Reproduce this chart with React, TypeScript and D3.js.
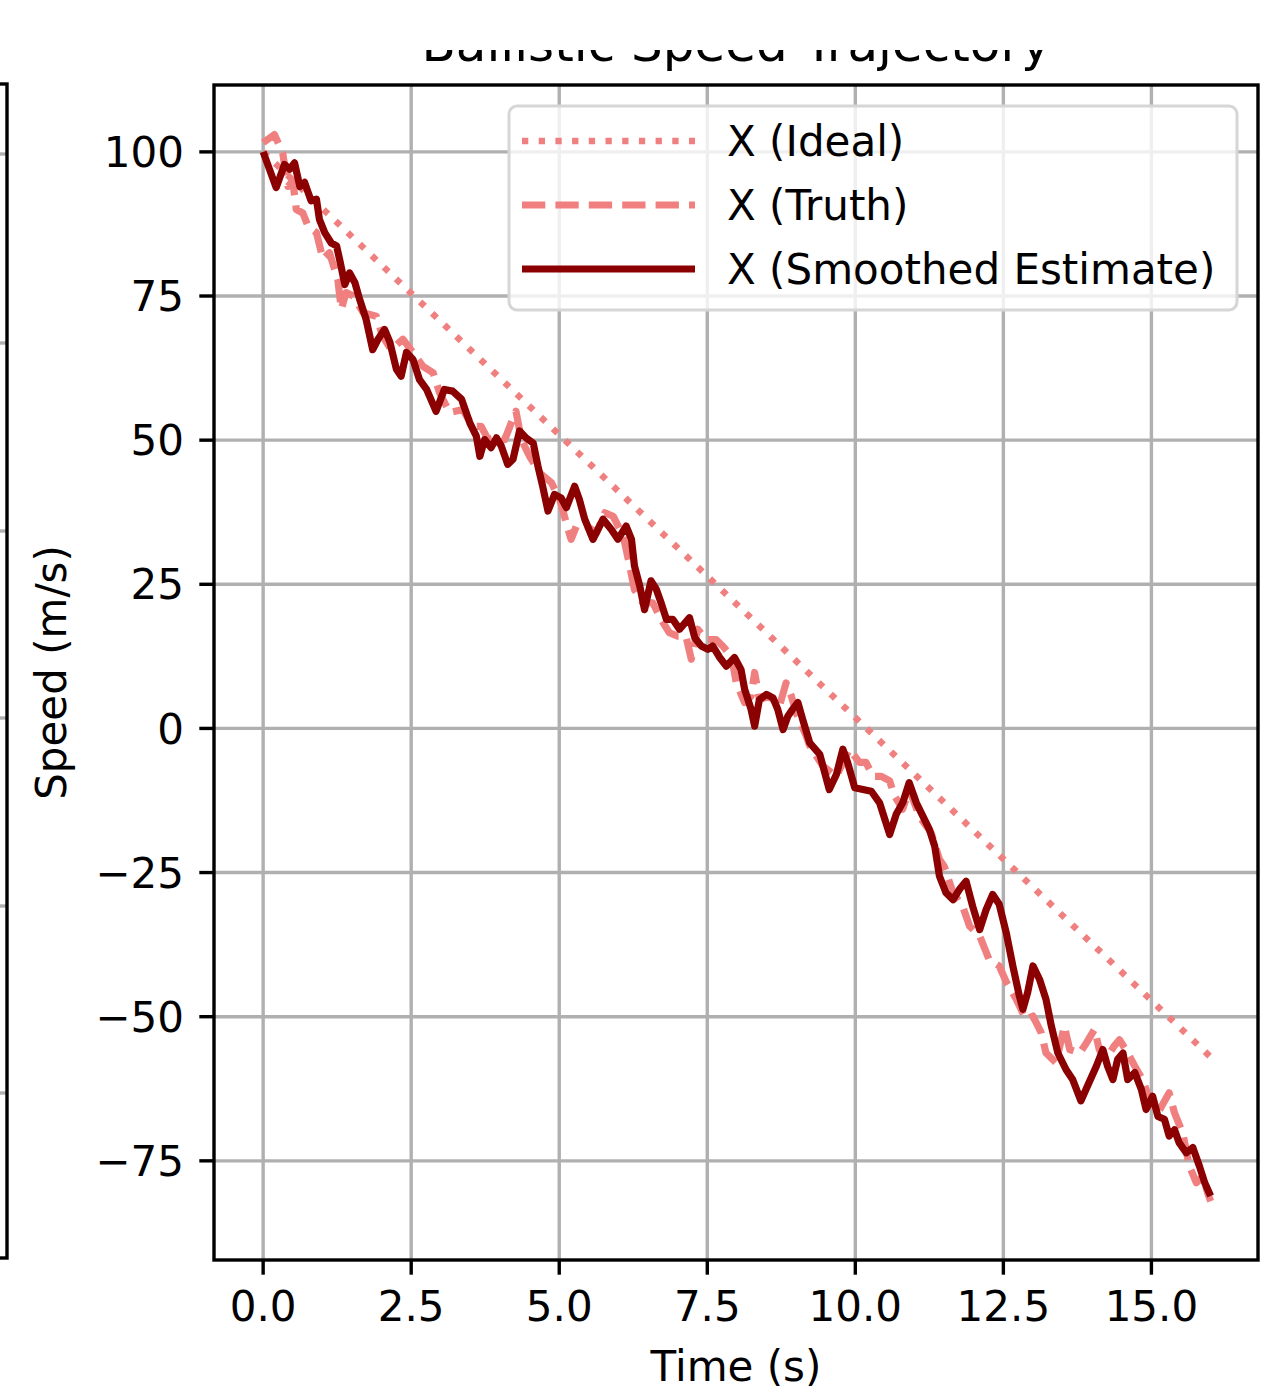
import React from "react";
import * as d3 from "d3";

// ---------- data ----------
const idealT = [0, 16];
const idealV = [100, -57];

const truthT = [0, 0.19, 0.28, 0.33, 0.42, 0.5, 0.56, 0.67, 0.76, 0.9, 1.01, 1.12, 1.26, 1.32, 1.4, 1.52, 1.69, 1.91, 2.02, 2.16, 2.36, 2.53, 2.7, 2.87, 2.98, 3.15, 3.37, 3.54, 3.68, 3.8, 3.94, 4.08, 4.19, 4.27, 4.36, 4.5, 4.67, 4.87, 5.01, 5.15, 5.2, 5.29, 5.46, 5.63, 5.77, 5.91, 6.08, 6.19, 6.27, 6.41, 6.58, 6.72, 6.86, 7.0, 7.14, 7.23, 7.34, 7.48, 7.65, 7.76, 7.91, 7.99, 8.13, 8.24, 8.3, 8.38, 8.55, 8.72, 8.83, 8.92, 9.0, 9.17, 9.23, 9.45, 9.68, 9.9, 10.07, 10.18, 10.3, 10.44, 10.58, 10.66, 10.8, 10.91, 11.08, 11.28, 11.42, 11.5, 11.65, 11.81, 11.93, 12.1, 12.26, 12.43, 12.55, 12.72, 12.88, 13.0, 13.14, 13.22, 13.39, 13.53, 13.62, 13.79, 13.9, 14.04, 14.12, 14.23, 14.37, 14.46, 14.6, 14.72, 14.85, 14.97, 15.11, 15.3, 15.39, 15.53, 15.64, 15.76, 15.87, 15.95, 16.0];
const truthV = [101.6, 103, 101, 99.8, 94, 95, 90, 89.4, 87.1, 86, 81.4, 82.5, 77.9, 72.7, 75.6, 75, 72.1, 71.5, 68, 65.7, 67.5, 65.2, 62.8, 61.7, 58.2, 54.8, 55.3, 52.4, 52.4, 50.1, 50.7, 50.1, 53, 55, 50.1, 47.2, 44.3, 42.6, 39.7, 34.5, 32.8, 35.1, 35.1, 33.9, 37.4, 36.8, 33.4, 28.2, 24.1, 21.8, 21.8, 18.9, 16.6, 16, 16, 12, 17.2, 15.4, 15.4, 14.3, 12.5, 7.9, 4.5, 5.6, 9.7, 5, 5.6, 3.9, 7.9, 5.6, 2.7, -1.3, -3.0, -6.5, -8.3, -3.6, -5.9, -5.9, -8.3, -8.3, -9.1, -11.7, -14, -10.6, -15.2, -18.1, -22.7, -23.9, -28.5, -30.8, -34.3, -36, -40.1, -41.2, -44, -47, -50.5, -49.9, -52.8, -56.3, -58, -51.6, -55.7, -56.3, -54.6, -52.2, -55.7, -57.4, -55.1, -54, -56.3, -58.6, -60.9, -64.4, -66.7, -63.2, -66.7, -70.2, -75.9, -78.8, -77.7, -80.6, -82];

const smoothT = [0, 0.22, 0.36, 0.45, 0.53, 0.62, 0.7, 0.81, 0.9, 0.95, 1.04, 1.15, 1.24, 1.29, 1.38, 1.46, 1.55, 1.63, 1.74, 1.85, 1.94, 2.05, 2.14, 2.25, 2.33, 2.42, 2.53, 2.64, 2.76, 2.92, 3.06, 3.2, 3.35, 3.49, 3.6, 3.66, 3.74, 3.85, 3.94, 4.02, 4.13, 4.22, 4.33, 4.44, 4.56, 4.64, 4.72, 4.81, 4.92, 5.03, 5.12, 5.26, 5.34, 5.43, 5.57, 5.74, 5.88, 5.99, 6.13, 6.22, 6.27, 6.36, 6.44, 6.55, 6.64, 6.72, 6.81, 6.92, 7.03, 7.2, 7.29, 7.4, 7.51, 7.59, 7.71, 7.82, 7.96, 8.07, 8.13, 8.24, 8.3, 8.38, 8.5, 8.61, 8.69, 8.78, 8.86, 8.94, 9.03, 9.11, 9.23, 9.4, 9.56, 9.68, 9.79, 9.87, 9.99, 10.13, 10.27, 10.41, 10.58, 10.69, 10.8, 10.91, 11.03, 11.14, 11.25, 11.34, 11.42, 11.53, 11.65, 11.76, 11.87, 11.98, 12.1, 12.21, 12.32, 12.43, 12.55, 12.66, 12.77, 12.83, 12.91, 13.0, 13.11, 13.22, 13.31, 13.42, 13.56, 13.67, 13.81, 13.93, 14.07, 14.18, 14.26, 14.35, 14.43, 14.52, 14.6, 14.72, 14.83, 14.91, 15.02, 15.11, 15.22, 15.3, 15.39, 15.47, 15.59, 15.7, 15.81, 15.9, 16.0];
const smoothV = [100, 93.8, 97.8, 97, 98.1, 94, 94.7, 91.5, 91.8, 88.3, 86, 84.2, 83.7, 81.4, 77, 79, 77.3, 74.4, 70.9, 65.7, 67.5, 69.2, 67, 62.3, 61.1, 65.2, 64, 60.5, 58.8, 55, 58.8, 58.5, 57.1, 53, 50.7, 47.2, 50.1, 48.7, 50.4, 49, 45.8, 46.7, 51.6, 50.4, 49.5, 45.5, 42, 37.7, 40.6, 40, 38.3, 42, 39.7, 36.3, 32.8, 36.3, 34.5, 32.8, 35.1, 32.8, 28.2, 24.7, 20.6, 25.6, 24.1, 21.8, 18.9, 18.9, 17.2, 19.2, 15.7, 14.3, 13.7, 14.3, 12.3, 10.8, 12.3, 10.2, 6.8, 3.3, 0.4, 5, 5.9, 5.3, 3.3, -0.2, 2.1, 3.3, 4.5, 1.6, -2.5, -4.5, -10.6, -8, -3.6, -5.9, -10.3, -10.6, -10.9, -12.9, -18.4, -14.9, -12.9, -9.4, -12.9, -15.2, -17.5, -20.4, -25.6, -28.5, -29.7, -27.9, -26.5, -30.8, -34.9, -31.4, -28.8, -30.5, -35.5, -41.2, -46.4, -48.7, -45.8, -41.2, -43.5, -47, -51.6, -56.3, -59.2, -60.9, -64.6, -61.8, -58.6, -55.7, -58.6, -60.9, -57.4, -56.3, -60.9, -59.7, -62.6, -66.1, -63.8, -67.3, -67.8, -70.7, -69.6, -71.9, -73.6, -72.7, -75.9, -78.8, -81.1];

const xTicks = [0, 2.5, 5, 7.5, 10, 12.5, 15];
const yTicks = [-75, -50, -25, 0, 25, 50, 75, 100];
const legendLabels = ["X (Ideal)", "X (Truth)", "X (Smoothed Estimate)"];
const titleText = "Ballistic Speed Trajectory";
const xLabel = "Time (s)";
const yLabel = "Speed (m/s)";
const leftPanelGrid = [154, 343, 531, 718, 906, 1093];

const W = 1276;
const H = 1392;
const FONT = "DejaVu Sans, sans-serif";

export default function App() {
  const L = 214, R = 1258, T = 85, B = 1260;
  const x = d3.scaleLinear().domain([-0.83, 16.8]).range([L, R]);
  const y = d3.scaleLinear().domain([-92.2, 111.6]).range([B, T]);
  const line = d3
    .line<[number, number]>()
    .x((d) => x(d[0]))
    .y((d) => y(d[1]));

  const ideal = idealT.map((t, i) => [t, idealV[i]] as [number, number]);
  const truth = truthT.map((t, i) => [t, truthV[i]] as [number, number]);
  const smooth = smoothT.map((t, i) => [t, smoothV[i]] as [number, number]);

  const fmtX = (v: number) => v.toFixed(1);
  const fmtY = (v: number) => (v < 0 ? "\u2212" + Math.abs(v) : String(v));

  const lw = 7.2;
  const coral = "#F08080";
  const dark = "#8B0000";
  const grid = "#b0b0b0";
  const gw = 3.4;

  const legendRows = [141, 205, 269];

  return (
    <svg
      width={W}
      height={H}
      style={{ position: "absolute", left: 0, top: 0, background: "#fff" }}
      fontFamily={FONT}
    >
      <defs>
        <clipPath id="plotclip">
          <rect x={L} y={T} width={R - L} height={B - T} />
        </clipPath>
        <clipPath id="titleclip">
          <rect x={0} y={50} width={W} height={40} />
        </clipPath>
      </defs>
      <rect x={0} y={0} width={W} height={H} fill="#fff" />

      {/* left neighbouring panel edge */}
      {leftPanelGrid.map((gy) => (
        <line key={gy} x1={0} x2={7} y1={gy} y2={gy} stroke={grid} strokeWidth={gw} />
      ))}
      <rect x={-30} y={84} width={37} height={1174} fill="none" stroke="#000" strokeWidth={3.4} />

      {/* title (partially hidden) */}
      <g clipPath="url(#titleclip)">
        <text x={(L + R) / 2} y={61} textAnchor="middle" fontSize={50} fill="#000">
          {titleText}
        </text>
      </g>

      {/* grid */}
      {xTicks.map((t) => (
        <line key={"gx" + t} x1={x(t)} x2={x(t)} y1={T} y2={B} stroke={grid} strokeWidth={gw} />
      ))}
      {yTicks.map((t) => (
        <line key={"gy" + t} x1={L} x2={R} y1={y(t)} y2={y(t)} stroke={grid} strokeWidth={gw} />
      ))}

      {/* data */}
      <g clipPath="url(#plotclip)" fill="none">
        <path d={line(ideal) || ""} stroke={coral} strokeWidth={6.5} strokeDasharray="6.3 10.4" />
        <path d={line(truth) || ""} stroke={coral} strokeWidth={lw} strokeDasharray="23.3 10.1" strokeLinejoin="round" />
        <path d={line(smooth) || ""} stroke={dark} strokeWidth={lw} strokeLinejoin="round" />
      </g>

      {/* frame */}
      <rect x={L} y={T} width={R - L} height={B - T} fill="none" stroke="#000" strokeWidth={3.4} />

      {/* ticks */}
      {xTicks.map((t) => (
        <g key={"xt" + t}>
          <line x1={x(t)} x2={x(t)} y1={B} y2={B + 14.7} stroke="#000" strokeWidth={3.4} />
          <text x={x(t)} y={1321} textAnchor="middle" fontSize={42} fill="#000">
            {fmtX(t)}
          </text>
        </g>
      ))}
      {yTicks.map((t) => (
        <g key={"yt" + t}>
          <line x1={L - 14.7} x2={L} y1={y(t)} y2={y(t)} stroke="#000" strokeWidth={3.4} />
          <text x={184} y={y(t)} dy="0.36em" textAnchor="end" fontSize={42} fill="#000">
            {fmtY(t)}
          </text>
        </g>
      ))}

      {/* axis labels */}
      <text x={(L + R) / 2} y={1381} textAnchor="middle" fontSize={42} fill="#000">
        {xLabel}
      </text>
      <text
        transform={`translate(66, ${(T + B) / 2}) rotate(-90)`}
        textAnchor="middle"
        fontSize={42}
        fill="#000"
      >
        {yLabel}
      </text>

      {/* legend */}
      <rect x={509} y={106} width={728} height={204} rx={8} ry={8} fill="#fff" fillOpacity={0.8} stroke="#d6d6d6" strokeWidth={3} />
      <line x1={522} x2={695} y1={legendRows[0]} y2={legendRows[0]} stroke={coral} strokeWidth={6.5} strokeDasharray="6.3 10.4" />
      <line x1={522} x2={695} y1={legendRows[1]} y2={legendRows[1]} stroke={coral} strokeWidth={lw} strokeDasharray="23.3 10.1" />
      <line x1={522} x2={695} y1={legendRows[2]} y2={legendRows[2]} stroke={dark} strokeWidth={lw} />
      {legendLabels.map((lab, i) => (
        <text key={lab} x={727} y={legendRows[i]} dy="0.36em" fontSize={42} fill="#000">
          {lab}
        </text>
      ))}
    </svg>
  );
}
